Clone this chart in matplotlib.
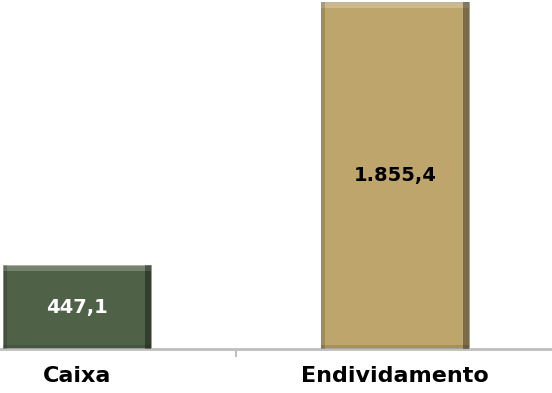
import matplotlib.pyplot as plt
from matplotlib.patches import Rectangle

categorias = ['Caixa', 'Endividamento']
valores = [447.1, 1855.4]
rotulos = ['447,1', '1.855,4']
cores = ['#4F6147', '#BEA56C']
cores_texto = ['white', 'black']

fig = plt.figure(figsize=(5.52, 3.93), dpi=100)
ax = fig.add_axes([0, 44 / 393, 1, 349 / 393])

x = range(len(categorias))
barras = ax.bar(x, valores, width=0.465, color=cores, edgecolor='#9a9a8a', linewidth=0.6, zorder=2)

# efeito de bisel simples
for b, c in zip(barras, cores):
    bx, by = b.get_x(), b.get_y()
    w, h = b.get_width(), b.get_height()
    dy = 1866 * 6 / 349
    dx = w * 6 / 148
    ax.add_patch(Rectangle((bx, by + h - dy), w, dy, color='white', alpha=0.22, lw=0, zorder=3))
    ax.add_patch(Rectangle((bx + w - dx, by), dx, h, color='black', alpha=0.35, lw=0, zorder=3))
    ax.add_patch(Rectangle((bx, by), dx * 0.7, h, color='black', alpha=0.15, lw=0, zorder=3))
    ax.add_patch(Rectangle((bx, by), w, dy * 0.7, color='black', alpha=0.12, lw=0, zorder=3))

for i, v in enumerate(valores):
    ax.text(i, v / 2, rotulos[i], ha='center', va='center', fontsize=14,
            fontweight='bold', color=cores_texto[i], zorder=4)

ax.set_xlim(-0.242, 1.494)
ax.set_ylim(0, 1866)

ax.set_xticks(list(x))
ax.set_xticklabels(categorias, fontsize=16, fontweight='bold')
ax.tick_params(axis='x', which='major', length=0, pad=12)
ax.set_xticks([0.5], minor=True)
ax.tick_params(axis='x', which='minor', length=6, width=1.5, color='#BFBFBF')
ax.set_yticks([])

for s in ['top', 'right', 'left']:
    ax.spines[s].set_visible(False)
ax.spines['bottom'].set_color('#BFBFBF')
ax.spines['bottom'].set_linewidth(2)

fig.savefig('out.png', dpi=100)
